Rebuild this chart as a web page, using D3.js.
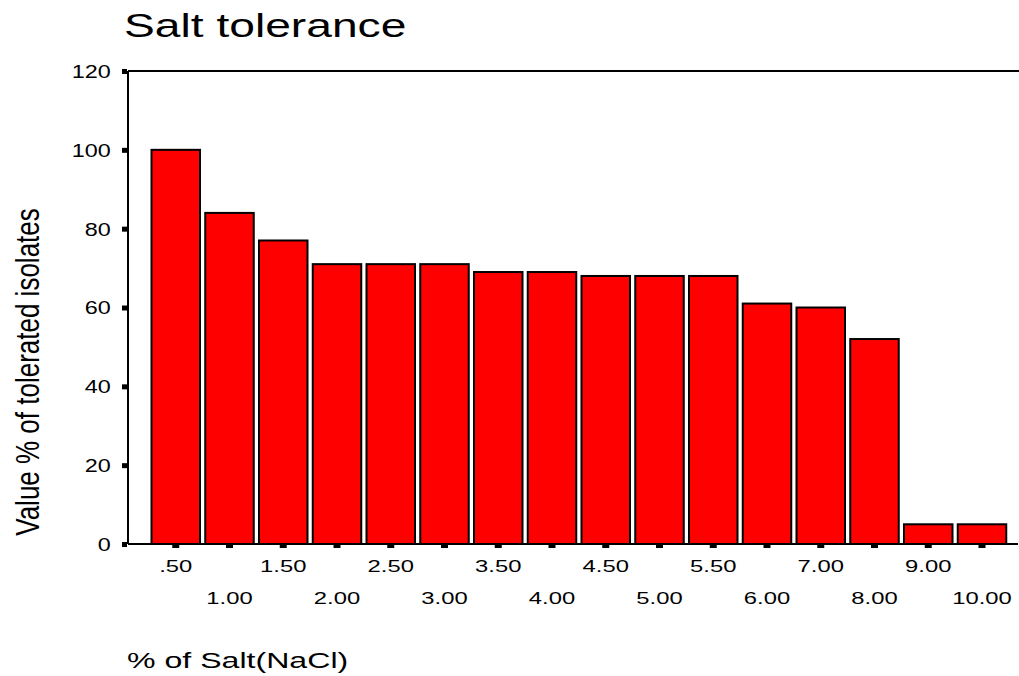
<!DOCTYPE html>
<html>
<head>
<meta charset="utf-8">
<script src="https://cdn.jsdelivr.net/npm/d3@7"></script>
<style>
  html, body { margin: 0; padding: 0; background: #fff; }
  svg { display: block; }
  svg text { font-family: "Liberation Sans", Arial, sans-serif; }
</style>
</head>
<body>
<svg id="chart" width="1019" height="676"></svg>
<script>
const categories = [".50", "1.00", "1.50", "2.00", "2.50", "3.00", "3.50", "4.00",
                    "4.50", "5.00", "5.50", "6.00", "7.00", "8.00", "9.00", "10.00"];
const values = [100, 84, 77, 71, 71, 71, 69, 69, 68, 68, 68, 61, 60, 52, 5, 5];
const yTicks = [0, 20, 40, 60, 80, 100, 120];
const title = "Salt tolerance";
const xTitle = "% of Salt(NaCl)";
const yTitle = "Value % of tolerated isolates";

const SX = 1.4; // horizontal stretch of glyphs seen in the reference
const FONT = '"Liberation Sans", Arial, sans-serif';

const svg = d3.select("#chart");
const plotLeft = 128, plotRight = 1018, plotTop = 71, plotBottom = 544;

const x = d3.scaleBand()
  .domain(categories)
  .range([151.5, 1006.25])
  .paddingInner(0.0977)
  .paddingOuter(0);

const y = d3.scaleLinear().domain([0, 120]).range([plotBottom, plotTop]);

// bars
svg.append("g").selectAll("rect")
  .data(values)
  .join("rect")
  .attr("x", (d, i) => x(categories[i]))
  .attr("width", x.bandwidth())
  .attr("y", d => y(d))
  .attr("height", d => y(0) - y(d))
  .attr("fill", "#ff0000")
  .attr("stroke", "#000")
  .attr("stroke-width", 2);

// top frame line
svg.append("line")
  .attr("x1", plotLeft).attr("x2", 1019)
  .attr("y1", plotTop).attr("y2", plotTop)
  .attr("stroke", "#000").attr("stroke-width", 2);

// y axis
const yAxis = svg.append("g")
  .attr("transform", `translate(${plotLeft},0)`)
  .call(d3.axisLeft(y).tickValues(yTicks).tickSize(6).tickPadding(0).tickFormat(d3.format("d")))
  .attr("font-family", FONT).attr("font-size", 18);
yAxis.select(".domain").attr("d", `M0,${plotTop}V${plotBottom}`).attr("stroke-width", 2);
yAxis.selectAll(".tick line").attr("stroke-width", 5).attr("x1", -1);
yAxis.selectAll(".tick text")
  .attr("x", -13.3)
  .attr("dy", "0.36em")
  .attr("font-size", 18)
  .attr("fill", "#000")
  .attr("transform", "scale(1.3,1)");

// x axis
const xAxis = svg.append("g")
  .attr("transform", `translate(0,${plotBottom})`)
  .call(d3.axisBottom(x).tickSize(4).tickPadding(0))
  .attr("font-family", FONT).attr("font-size", 17);
xAxis.select(".domain").attr("d", `M${plotLeft},0H${plotRight}`).attr("stroke-width", 2);
xAxis.selectAll(".tick line").attr("stroke-width", 7).attr("y1", 1);
xAxis.selectAll(".tick text")
  .attr("y", (d, i) => (i % 2 === 0 ? 28 : 60))
  .attr("dy", 0)
  .attr("font-size", 17)
  .attr("fill", "#000")
  .attr("transform", `scale(${SX},1)`);

// title
svg.append("text")
  .attr("transform", `translate(124,37) scale(${SX},1)`)
  .attr("font-size", 33)
  .attr("fill", "#000")
  .text(title);

// x title
svg.append("text")
  .attr("transform", `translate(127,668) scale(1.46,1)`)
  .attr("font-size", 22)
  .attr("fill", "#000")
  .text(xTitle);

// y title
svg.append("text")
  .attr("transform", `translate(39,372) scale(1.25,1) rotate(-90)`)
  .attr("text-anchor", "middle")
  .attr("font-size", 26)
  .attr("fill", "#000")
  .text(yTitle);
</script>
</body>
</html>
